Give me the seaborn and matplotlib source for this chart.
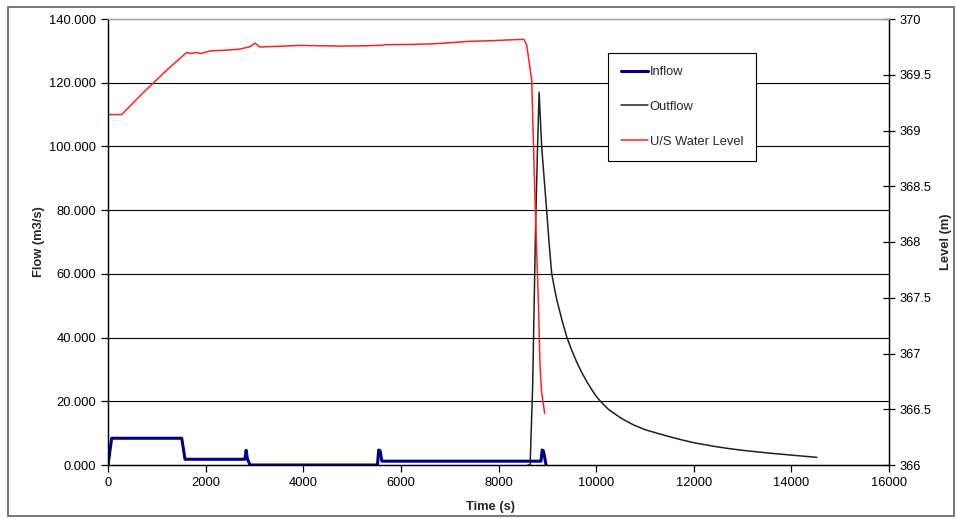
import matplotlib
matplotlib.use('Agg')
import matplotlib.pyplot as plt
import seaborn as sns
from matplotlib.patches import Rectangle

# inflow hydrograph (s, m3/s)
inflow_t = [0, 75, 1510, 1578, 2805, 2830, 2855, 2910, 5520, 5545, 5575, 5610, 8870, 8895, 8920, 8975]
inflow_q = [0, 8.4, 8.4, 1.8, 1.8, 4.6, 2.0, 0, 0, 4.7, 4.5, 1.2, 1.2, 4.7, 4.4, 0]

# outflow hydrograph (s, m3/s)
outflow_t = [8600, 8648, 8700, 8760, 8800, 8832, 8884, 8940, 8986, 9040, 9089, 9140, 9195,
             9300, 9396, 9500, 9600, 9700, 9800, 9900, 10000, 10100, 10250, 10500, 10750,
             11000, 11244, 11500, 11750, 12000, 12400, 12700, 13000, 13500, 14000, 14522]
outflow_q = [0, 0, 25, 75, 100, 117, 100, 89, 80, 69, 60.2, 56, 51.8,
             45.5, 40.3, 36.0, 32.4, 29.2, 26.4, 23.9, 21.6, 19.8, 17.5, 14.8, 12.7,
             11.1, 10.0, 8.9, 7.9, 7.0, 5.9, 5.2, 4.6, 3.8, 3.1, 2.4]

# upstream water level (s, m)
level_t = [0, 280, 700, 1200, 1612, 1700, 1800, 1900, 2090, 2400, 2700, 2909, 3012, 3114,
           3500, 3934, 4343, 4800, 5300, 5600, 5700, 6200, 6700, 7416, 7900, 8441, 8520,
           8578, 8680, 8748, 8816, 8851, 8885, 8947]
level_m = [369.143, 369.143, 369.33, 369.54, 369.70, 369.69, 369.70, 369.69, 369.714, 369.72,
           369.73, 369.751, 369.783, 369.749, 369.755, 369.763, 369.760, 369.757, 369.760,
           369.764, 369.770, 369.772, 369.778, 369.800, 369.806, 369.817, 369.817,
           369.766, 369.451, 368.377, 367.480, 366.883, 366.643, 366.463]

flow_ticks = [0, 20, 40, 60, 80, 100, 120, 140]
level_ticks = [366, 366.5, 367, 367.5, 368, 368.5, 369, 369.5, 370]
time_ticks = [0, 2000, 4000, 6000, 8000, 10000, 12000, 14000, 16000]

sns.set_style('ticks')
plt.rcParams['font.family'] = ['Liberation Sans', 'DejaVu Sans']
fs = 9.3

fig = plt.figure(figsize=(9.57, 5.19), dpi=100)
ax = fig.add_axes([108 / 957, 1 - 465 / 519, (889 - 108) / 957, (465 - 19) / 519])
ax2 = ax.twinx()

for v in flow_ticks[1:-1]:
    ax.axhline(v, color='black', lw=0.8, zorder=0)

sns.lineplot(x=inflow_t, y=inflow_q, ax=ax, color='#000080', lw=2.2, label='Inflow', legend=False)
sns.lineplot(x=outflow_t, y=outflow_q, ax=ax, color='#202020', lw=1.1, label='Outflow', legend=False)
sns.lineplot(x=level_t, y=level_m, ax=ax2, color='#ff2020', lw=1.1, label='U/S Water Level', legend=False)

ax.set_xlim(0, 16000)
ax.set_ylim(0, 140)
ax2.set_ylim(366, 370)
ax.set_xticks(time_ticks)
ax.set_yticks(flow_ticks)
ax.set_yticklabels([f'{v:.3f}' for v in flow_ticks])
ax2.set_yticks(level_ticks)
ax2.set_yticklabels([f'{v:g}' for v in level_ticks])

ax.set_xlabel('Time (s)', fontweight='bold', fontsize=fs, labelpad=9, x=0.49)
ax.set_ylabel('Flow (m3/s)', fontweight='bold', fontsize=fs, labelpad=3)
ax2.set_ylabel('Level (m)', fontweight='bold', fontsize=fs, labelpad=6)

for a in (ax, ax2):
    for s in a.spines.values():
        s.set_color('black')
        s.set_linewidth(0.9)
    a.spines['top'].set_color('#a0a0a0')
ax.tick_params(axis='both', direction='out', length=5, width=0.9, colors='black', labelsize=fs)
ax2.tick_params(axis='y', direction='inout', length=8, width=0.9, colors='black', labelsize=fs)

h1, l1 = ax.get_legend_handles_labels()
h2, l2 = ax2.get_legend_handles_labels()
leg = ax2.legend(h1 + h2, l1 + l2, loc='upper left', bbox_to_anchor=(0.640, 0.923),
                 borderaxespad=0, fancybox=False, edgecolor='black', framealpha=1,
                 labelspacing=1.75, handlelength=2.1, handletextpad=0.15, borderpad=1.0,
                 fontsize=fs)
leg.get_frame().set_linewidth(0.8)

fig.patches.append(Rectangle((8 / 957, 1 - 516 / 519), 946 / 957, 509 / 519,
                             transform=fig.transFigure, fill=False, edgecolor='#606060', lw=1.2))

fig.savefig('out.png', dpi=100)
